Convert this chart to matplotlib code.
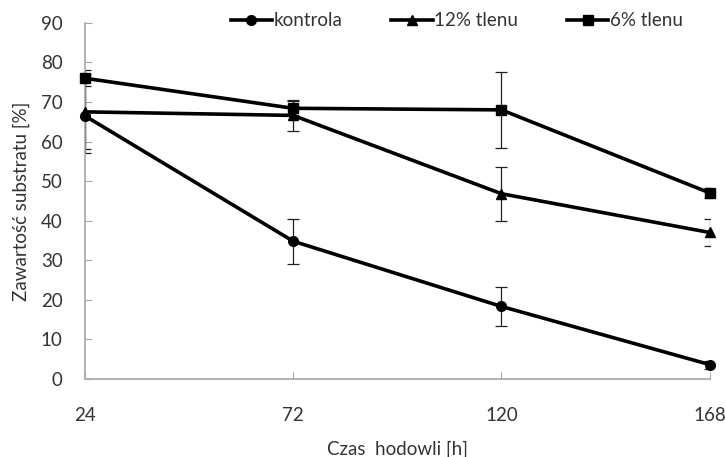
import numpy as np
import matplotlib.pyplot as plt

# czas hodowli [h] i zawartosc substratu [%]
czas = ['24', '72', '120', '168']
kontrola = [66.5, 34.8, 18.3, 3.6]
kontrola_sd = [9.5, 5.7, 5.0, 1.0]
tlen12 = [67.5, 66.6, 46.8, 37.0]
tlen12_sd = [9.5, 4.0, 6.8, 3.5]
tlen6 = [76.0, 68.4, 68.0, 47.0]
tlen6_sd = [2.0, 1.8, 9.6, 1.3]

plt.rcParams['font.family'] = ['Lato', 'DejaVu Sans']

fig = plt.figure(figsize=(7.25, 4.57), dpi=100)
ax = fig.add_axes([0.117, 0.171, 0.862, 0.779])

x = np.arange(len(czas))
serie = [(kontrola, kontrola_sd, 'o', 7, 'kontrola'),
         (tlen12, tlen12_sd, '^', 7, '12% tlenu'),
         (tlen6, tlen6_sd, 's', 7, '6% tlenu')]
for y, sd, m, ms, lab in serie:
    ax.errorbar(x, y, yerr=sd, fmt='none', ecolor='#202020', elinewidth=0.9,
                capsize=4, capthick=0.9, zorder=2)
    ax.plot(x, y, color='black', lw=2.6, marker=m, ms=ms, label=lab,
            clip_on=False, zorder=3)

ax.set_xlim(0, 3)
ax.set_ylim(0, 90)
ax.set_xticks(x)
ax.set_xticklabels(czas)
ax.set_yticks(range(0, 91, 10))
for s in ['top', 'right']:
    ax.spines[s].set_visible(False)
for s in ['left', 'bottom']:
    ax.spines[s].set_color('#a6a6a6')
    ax.spines[s].set_linewidth(1.2)
ax.tick_params(direction='in', color='#a6a6a6', length=5, labelsize=13.5,
               labelcolor='#333333')
ax.tick_params(axis='x', pad=20)
ax.tick_params(axis='y', pad=16)

ax.set_xlabel('Czas  hodowli [h]', fontsize=13.5, color='#333333', labelpad=12)
ax.set_ylabel('Zawartość substratu [%]', fontsize=13.5, color='#333333', labelpad=8)

fig.legend(*ax.get_legend_handles_labels(), loc='center',
           bbox_to_anchor=(0.63, 0.955), ncol=3, frameon=False,
           fontsize=13.5, handlelength=2.2, handletextpad=0.1, columnspacing=2.6,
           labelcolor='#333333', borderpad=0, borderaxespad=0)

fig.savefig('out.png', dpi=100)
